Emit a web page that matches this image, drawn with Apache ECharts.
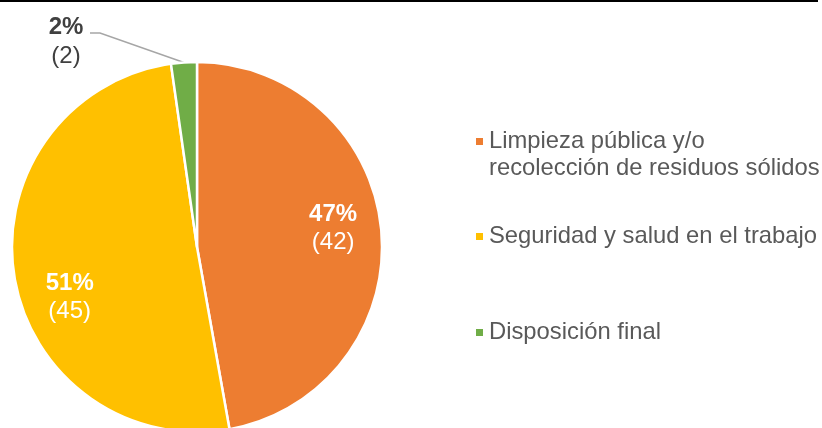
<!DOCTYPE html>
<html>
<head>
<meta charset="utf-8">
<script src="https://cdn.jsdelivr.net/npm/echarts@6/dist/echarts.min.js"></script>
<style>
  html, body { margin: 0; padding: 0; background: #fff; }
  #chart { width: 822px; height: 428px; }
</style>
</head>
<body>
<div id="chart"></div>
<script>
  // categories and values
  var categories = [
    'Limpieza pública y/o\nrecolección de residuos sólidos',
    'Seguridad y salud en el trabajo',
    'Disposición final'
  ]
  var counts = [42, 45, 2]
  var colors = ['#ED7D31', '#FFC000', '#70AD47']

  var font = '"Liberation Sans", Arial, sans-serif'
  var labelOffsets = [[41, -10], [-33, 35], [0, 0]]

  var chart = echarts.init(document.getElementById('chart'))

  var data = categories.map(function (name, i) {
    var item = {
      name: name,
      value: counts[i],
      itemStyle: {color: colors[i]},
      label: {offset: labelOffsets[i]}
    }
    if (i === 2) {
      item.label = {
        position: 'outside',
        color: '#404040',
        rich: {
          p: {fontSize: 24, fontWeight: 'bold', color: '#404040', fontFamily: font, lineHeight: 29},
          v: {fontSize: 24, color: '#404040', fontFamily: font, lineHeight: 29}
        }
      }
      item.labelLine = {show: true, lineStyle: {color: '#A6A6A6', width: 1.5}}
    }
    return item
  })

  // one legend per item, Excel puts them unevenly
  var legendTops = [101, 223, 319]
  var legends = categories.map(function (name, i) {
    return {
      data: [name],
      left: 474,
      top: legendTops[i],
      padding: 0,
      orient: 'vertical',
      icon: 'rect',
      itemWidth: 9,
      itemHeight: 9,
      selectedMode: false,
      // blank first line so the marker sits next to the first line of text
      formatter: function (n) { return i === 0 ? '\u00a0\n' + n : n },
      textStyle: {
        color: '#595959',
        fontSize: 23.8,
        fontFamily: font,
        lineHeight: 27
      }
    }
  })

  chart.setOption({
    animation: false,
    backgroundColor: '#fff',
    legend: legends,
    graphic: [{
      type: 'line',
      shape: {x1: 0, y1: 1, x2: 818, y2: 1},
      style: {stroke: '#000', lineWidth: 2}
    }],
    series: [{
      type: 'pie',
      center: [197, 247],
      radius: 185,
      startAngle: 90,
      clockwise: true,
      percentPrecision: 0,
      itemStyle: {borderColor: '#fff', borderWidth: 2.5},
      label: {
        show: true,
        position: 'inside',
        color: '#fff',
        formatter: function (p) {
          return '{p|' + p.percent + '%}\n{v|(' + p.value + ')}'
        },
        rich: {
          p: {fontSize: 24, fontWeight: 'bold', color: '#fff', fontFamily: font, lineHeight: 28},
          v: {fontSize: 24, color: '#fff', fontFamily: font, lineHeight: 28}
        }
      },
      labelLine: {show: false},
      labelLayout: function (params) {
        if (params.dataIndex !== 2) return {}
        var end = params.labelLinePoints ? params.labelLinePoints[0] : [184, 62]
        return {
          x: 66,
          y: 42,
          align: 'center',
          verticalAlign: 'middle',
          labelLinePoints: [[90, 33], [100, 33], end]
        }
      },
      data: data
    }]
  })
</script>
</body>
</html>
